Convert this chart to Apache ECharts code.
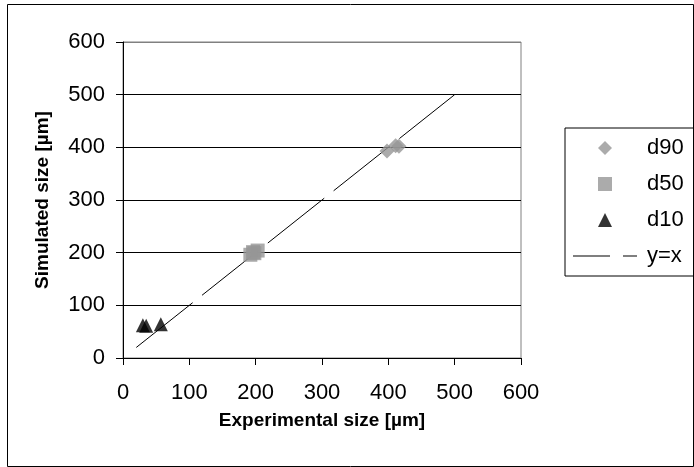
<!DOCTYPE html>
<html>
<head>
<meta charset="utf-8">
<script src="https://cdn.jsdelivr.net/npm/echarts@6/dist/echarts.min.js"></script>
<style>
  html, body { margin: 0; padding: 0; background: #fff; }
  #chart { width: 694px; height: 467px; }
</style>
</head>
<body>
<div id="chart"></div>
<script>
// values
const d90 = [[398, 393], [411, 403], [416, 402]];
const d50 = [[192, 196], [196, 201], [198, 199], [203, 204]];
const d10 = [[30, 62], [35, 61], [57, 64]];
const identityLine = [[20, 20], [500, 500]];
const axisTicks = [0, 100, 200, 300, 400, 500, 600];

let chartDom = document.getElementById('chart');
let chart = echarts.init(chartDom);
var option;

const font = 'Liberation Sans, Arial, sans-serif';

option = {
    animation: false,
    textStyle: { fontFamily: font },
    graphic: [{
        type: 'rect',
        shape: { x: 7.5, y: 4.5, width: 686, height: 462 },
        style: { fill: null, stroke: '#000', lineWidth: 1 },
        silent: true
    }],
    grid: {
        left: 123,
        right: 173,
        top: 42,
        bottom: 109,
        show: true,
        borderColor: '#808080',
        borderWidth: 1
    },
    legend: {
        orient: 'vertical',
        left: 565,
        top: 128,
        padding: [8, 40, 8, 8],
        itemWidth: 64,
        itemHeight: 14,
        itemGap: 12,
        symbolKeepAspect: true,
        borderColor: '#000',
        borderWidth: 1,
        textStyle: { fontSize: 22, color: '#000', lineHeight: 24, padding: [0, 0, 0, 5], fontFamily: font },
        data: [
            { name: 'd90', icon: 'path://M7,0 L14,7 L7,14 L0,7 Z' },
            { name: 'd50', icon: 'path://M0,0 H14 V14 H0 Z' },
            { name: 'd10', icon: 'path://M7,0 L14,14 L0,14 Z' },
            { name: 'y=x', icon: 'path://M0,0 H37 V1 H0 Z M50,0 H64 V1 H50 Z' }
        ]
    },
    xAxis: {
        type: 'value',
        min: axisTicks[0],
        max: axisTicks[axisTicks.length - 1],
        interval: 100,
        name: 'Experimental size [µm]',
        nameLocation: 'middle',
        nameGap: 53,
        nameTextStyle: { fontSize: 19, fontWeight: 'bold', color: '#000', fontFamily: font },
        axisLine: { lineStyle: { color: '#000', width: 1 } },
        axisTick: { show: true, length: 7, lineStyle: { color: '#000' } },
        axisLabel: { fontSize: 22, color: '#000', margin: 24, fontFamily: font },
        splitLine: { show: false }
    },
    yAxis: {
        type: 'value',
        min: axisTicks[0],
        max: axisTicks[axisTicks.length - 1],
        interval: 100,
        name: 'Simulated size [µm]',
        nameLocation: 'middle',
        nameGap: 71,
        nameTextStyle: { fontSize: 19, fontWeight: 'bold', color: '#000', fontFamily: font },
        axisLine: { lineStyle: { color: '#000', width: 1 } },
        axisTick: { show: true, length: 7, lineStyle: { color: '#000' } },
        axisLabel: { fontSize: 22, color: '#000', margin: 18, fontFamily: font },
        splitLine: {
            show: true,
            lineStyle: { color: ['#000', '#000', '#000', '#000', '#000', '#000', '#808080'], width: 1 }
        }
    },
    series: [
        {
            name: 'd90',
            type: 'scatter',
            symbol: 'diamond',
            symbolSize: 15,
            itemStyle: { color: '#969696' },
            data: d90
        },
        {
            name: 'd50',
            type: 'scatter',
            symbol: 'rect',
            symbolSize: 14,
            itemStyle: { color: '#969696' },
            data: d50
        },
        {
            name: 'd10',
            type: 'scatter',
            symbol: 'triangle',
            symbolSize: 14,
            itemStyle: { color: '#000' },
            data: d10
        },
        {
            name: 'y=x',
            type: 'line',
            showSymbol: false,
            symbol: 'none',
            color: '#000',
            itemStyle: { color: '#000' },
            lineStyle: { color: '#000', width: 1, type: [72, 12] },
            data: identityLine,
            z: 1
        }
    ]
};

chart.setOption(option);
</script>
</body>
</html>
